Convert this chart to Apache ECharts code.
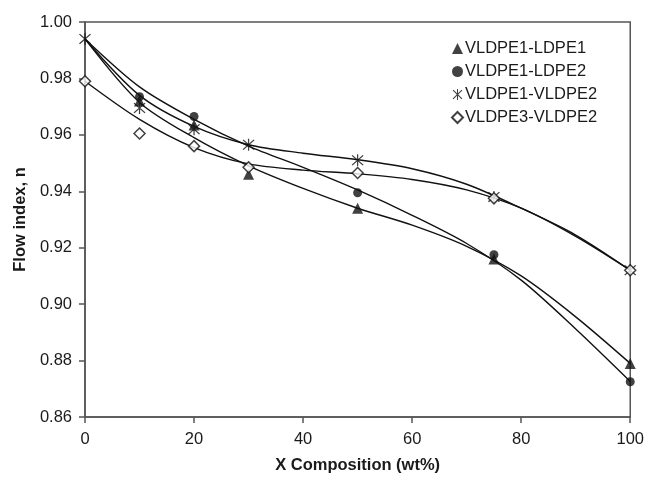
<!DOCTYPE html>
<html>
<head>
<meta charset="utf-8">
<script src="https://cdn.jsdelivr.net/npm/echarts@6/dist/echarts.min.js"></script>
<style>
  html, body { margin: 0; padding: 0; background: #fff; }
  #chart { width: 647px; height: 479px; }
</style>
</head>
<body>
<div id="chart"></div>
<script>
// Measured flow index n for each blend system
const seriesNames = ['VLDPE1-LDPE1', 'VLDPE1-LDPE2', 'VLDPE1-VLDPE2', 'VLDPE3-VLDPE2'];

const xLDPE1 = [10, 20, 30, 50, 75, 100];
const nLDPE1 = [0.972, 0.9635, 0.946, 0.934, 0.916, 0.879];

const xLDPE2 = [10, 20, 50, 75, 100];
const nLDPE2 = [0.9735, 0.9665, 0.9395, 0.9175, 0.8725];

const xVLDPE12 = [0, 10, 20, 30, 50, 75, 100];
const nVLDPE12 = [0.994, 0.9695, 0.962, 0.9565, 0.951, 0.938, 0.912];

const xVLDPE32 = [0, 10, 20, 30, 50, 75, 100];
const nVLDPE32 = [0.979, 0.9605, 0.956, 0.9485, 0.9465, 0.9375, 0.912];

// Trend curves, sampled every 10 wt%
const trendX = [0, 10, 20, 30, 40, 50, 60, 70, 80, 90, 100];
const trendLDPE1 = [0.994, 0.9715, 0.959, 0.949, 0.941, 0.934, 0.928, 0.9205, 0.910, 0.8955, 0.879];
const trendLDPE2 = [0.994, 0.977, 0.9655, 0.956, 0.9485, 0.9405, 0.9315, 0.9215, 0.9085, 0.8912, 0.8726];
const trendVLDPE12 = [0.994, 0.974, 0.963, 0.9565, 0.9535, 0.9512, 0.948, 0.9425, 0.934, 0.9245, 0.912];
const trendVLDPE32 = [0.979, 0.9655, 0.9555, 0.9497, 0.9475, 0.9462, 0.9442, 0.9405, 0.934, 0.924, 0.912];

const yTicks = ['0.86', '0.88', '0.90', '0.92', '0.94', '0.96', '0.98', '1.00'];

const pair = (xs, ys) => xs.map((x, i) => [x, ys[i]]);

const asterisk = 'path://M-0.9,-10L0.9,-10L0.9,10L-0.9,10Z' +
  'M-8.8,-7.4L-7.4,-8.8L8.8,7.4L7.4,8.8Z' +
  'M7.4,-8.8L8.8,-7.4L-7.4,8.8L-8.8,7.4Z';

const fontFamily = 'Liberation Sans, Arial, sans-serif';
const ink = '#1a1a1a';

function trend(data) {
  return {
    type: 'line', data: data, smooth: 0.3,
    showSymbol: false, silent: true, z: 2,
    lineStyle: { color: '#111', width: 1.4 }
  };
}

function markers(name, data, symbol, size, filled) {
  return {
    name: name, type: 'scatter', data: data, symbol: symbol, symbolSize: size, z: 3,
    itemStyle: filled
      ? { color: '#111' }
      : { color: '#fff', borderColor: '#111', borderWidth: 1.5 }
  };
}

const chart = echarts.init(document.getElementById('chart'), null, { renderer: 'canvas' });
chart.setOption({
  animation: false,
  backgroundColor: '#fff',
  grid: {
    left: 85, right: 16, top: 22, bottom: 62,
    show: true, borderColor: '#555', borderWidth: 1.5, backgroundColor: 'transparent'
  },
  legend: {
    orient: 'vertical', left: 446, top: 35,
    itemWidth: 11, itemHeight: 11, itemGap: 6,
    textStyle: { fontFamily: fontFamily, fontSize: 16.5, color: ink, padding: [0, 0, 0, -3] },
    data: [
      { name: seriesNames[0], icon: 'triangle' },
      { name: seriesNames[1], icon: 'circle', itemStyle: { color: '#111' } },
      { name: seriesNames[2], icon: asterisk },
      { name: seriesNames[3], icon: 'diamond' }
    ]
  },
  xAxis: {
    type: 'value', min: 0, max: 100, interval: 20,
    name: 'X Composition (wt%)', nameLocation: 'middle', nameGap: 40,
    nameTextStyle: { fontFamily: fontFamily, fontSize: 16.5, fontWeight: 'bold', color: ink },
    axisLine: { show: true, lineStyle: { color: '#555', width: 1.5 } },
    axisTick: { show: true, length: 6, lineStyle: { color: '#555', width: 1.5 } },
    axisLabel: { margin: 14, fontFamily: fontFamily, fontSize: 16.5, color: ink },
    splitLine: { show: false }
  },
  yAxis: {
    type: 'value', min: 0.86, max: 1.0, interval: 0.02,
    name: 'Flow index, n', nameLocation: 'middle', nameGap: 51, nameRotate: 90,
    nameTextStyle: { fontFamily: fontFamily, fontSize: 16.5, fontWeight: 'bold', color: ink },
    axisLine: { show: true, lineStyle: { color: '#555', width: 1.5 } },
    axisTick: { show: true, length: 6, lineStyle: { color: '#555', width: 1.5 } },
    axisLabel: {
      margin: 13, fontFamily: fontFamily, fontSize: 16.5, color: ink,
      formatter: v => yTicks.find(t => Math.abs(parseFloat(t) - v) < 1e-6) || v.toFixed(2)
    },
    splitLine: { show: false }
  },
  series: [
    trend(pair(trendX, trendLDPE1)),
    trend(pair(trendX, trendLDPE2)),
    trend(pair(trendX, trendVLDPE12)),
    trend(pair(trendX, trendVLDPE32)),
    markers(seriesNames[0], pair(xLDPE1, nLDPE1), 'triangle', 11, true),
    markers(seriesNames[1], pair(xLDPE2, nLDPE2), 'circle', 9, true),
    markers(seriesNames[2], pair(xVLDPE12, nVLDPE12), asterisk, 12, true),
    markers(seriesNames[3], pair(xVLDPE32, nVLDPE32), 'diamond', 11, false)
  ]
});
</script>
</body>
</html>
